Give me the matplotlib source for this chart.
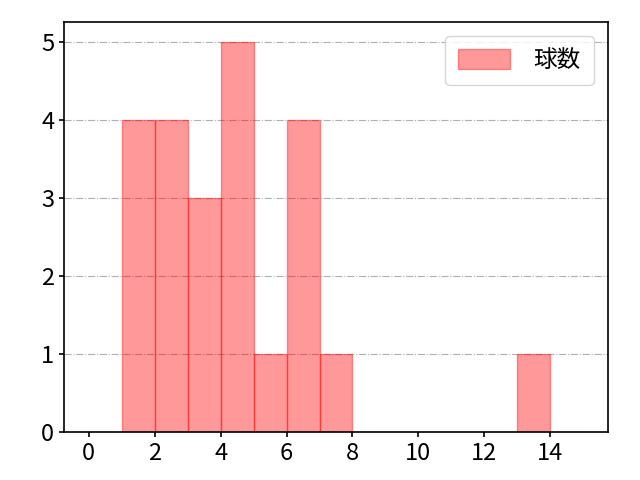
import numpy as np
import matplotlib
matplotlib.use("Agg")
import matplotlib.pyplot as plt

plt.rcParams['font.family'] = ['Noto Sans CJK JP', 'DejaVu Sans']

# ヒストグラムのビン (左端) と度数
bin_left = [1, 2, 3, 4, 5, 6, 7, 13]
counts   = [4, 4, 3, 5, 1, 4, 1, 1]
edges    = np.arange(0, 16)
label    = "球数"

fig, ax = plt.subplots(figsize=(6.4, 4.8), dpi=100)
ax.hist(bin_left, bins=edges, weights=counts, color="red", alpha=0.4,
        edgecolor="red", linewidth=1, label=label)
ax.grid(axis="y", linestyle="-.", color="#b0b0b0", linewidth=0.8)
ax.set_axisbelow(True)
ax.set_xticks(np.arange(0, 16, 2))
ax.set_yticks(range(0, 6))
ax.tick_params(labelsize=17, width=1.2)
for s in ax.spines.values():
    s.set_linewidth(1.2)
ax.legend(loc="upper right", fontsize=17, handlelength=2.2, handleheight=0.9,
          handletextpad=1.0, borderpad=0.55, borderaxespad=0.6)
fig.subplots_adjust(left=0.1, right=0.95, top=0.954, bottom=0.1)
fig.savefig("out.png")
